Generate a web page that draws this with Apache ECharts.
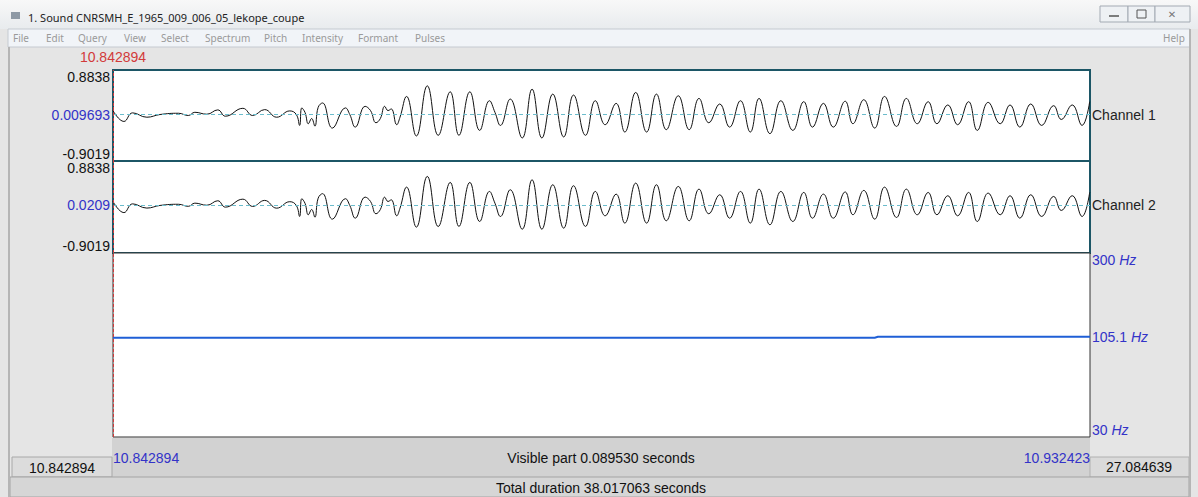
<!DOCTYPE html>
<html>
<head>
<meta charset="utf-8">
<script src="https://cdn.jsdelivr.net/npm/echarts@6/dist/echarts.min.js"></script>
<style>
html, body { margin: 0; padding: 0; background: #e5e5e5; }
#praat { width: 1198px; height: 497px; }
</style>
</head>
<body>
<div id="praat"></div>
<script>
// window / selection values
var windowTitle = '1. Sound CNRSMH_E_1965_009_006_05_lekope_coupe';
var menuItems = ['File', 'Edit', 'Query', 'View', 'Select', 'Spectrum', 'Pitch', 'Intensity', 'Formant', 'Pulses'];
var startSec = '10.842894';
var endSec = '10.932423';
var visibleMs = 89.529;
var visibleText = 'Visible part 0.089530 seconds';
var totalText = 'Total duration 38.017063 seconds';
var leftCellText = '10.842894';
var rightCellText = '27.084639';

// amplitude axes
var ampMin = -0.9019;
var ampMax = 0.8838;
var ch1Mid = 0.009693;
var ch2Mid = 0.0209;

// waveform turning points (time in ms from window start)
var waveT = [0.0, 1.0, 1.8, 3.1, 4.3, 6.0, 6.9, 7.5, 8.6, 9.6, 10.3, 11.9, 12.8, 13.9, 15.0,
  16.2, 16.8, 17.1, 17.3, 17.6, 17.9, 18.2, 18.5, 18.8, 19.2, 20.1, 21.3, 21.7, 22.2, 23.1,
  23.6, 24.1, 24.5, 24.9, 25.2, 25.5, 26.0, 26.3, 26.9, 27.8, 28.8, 29.8, 30.9, 31.7, 32.7,
  33.6, 34.5, 35.0, 35.5, 36.4, 37.5, 38.4, 39.3, 40.3, 41.3, 42.2, 43.3, 44.2, 45.1, 46.1,
  46.9, 47.9, 48.9, 49.8, 50.7, 51.8, 52.8, 53.7, 54.6, 55.6, 56.5, 57.5, 58.4, 59.2, 60.2,
  61.2, 62.3, 63.3, 64.1, 65.1, 66.0, 67.1, 67.8, 68.8, 69.8, 70.7, 71.8, 72.7, 73.7, 74.7,
  75.5, 76.5, 77.4, 78.4, 79.2, 80.2, 81.3, 82.2, 83.1, 84.1, 85.1, 86.2, 86.9, 87.9, 88.8, 89.5];
var ch1Amp = [0.087, -0.126, 0.043, -0.043, 0.010, 0.035, -0.009, 0.054, 0.016, 0.101, -0.023, 0.132, -0.009, 0.107, -0.043,
  0.081, 0.010, -0.204, 0.140, 0.049, -0.171, -0.068, -0.217, 0.151, 0.237, -0.256, 0.140, 0.010, -0.237, 0.171,
  0.087, -0.151, -0.068, 0.171, 0.087, 0.120, -0.190, -0.043, 0.365, -0.411, 0.573, -0.398, 0.456, -0.398, 0.456,
  -0.301, 0.281, 0.054, -0.204, 0.314, -0.450, 0.508, -0.450, 0.411, -0.430, 0.392, -0.398, 0.281, -0.190, 0.229,
  -0.334, 0.443, -0.334, 0.411, -0.287, 0.378, -0.287, 0.326, -0.151, 0.217, -0.237, 0.281, -0.334, 0.326, -0.365,
  0.281, -0.301, 0.262, -0.237, 0.229, -0.237, 0.272, -0.171, 0.301, -0.256, 0.365, -0.223, 0.326, -0.171, 0.262,
  -0.171, 0.198, -0.190, 0.262, -0.301, 0.249, -0.171, 0.198, -0.237, 0.217, -0.204, 0.184, -0.087, 0.198, -0.204, 0.262];
var ch2Amp = [0.098, -0.118, 0.052, -0.030, 0.021, 0.044, 0.004, 0.066, 0.025, 0.112, -0.012, 0.143, 0.002, 0.119, -0.032,
  0.094, 0.021, -0.193, 0.152, 0.060, -0.160, -0.057, -0.206, 0.162, 0.250, -0.245, 0.152, 0.021, -0.226, 0.183,
  0.098, -0.140, -0.057, 0.182, 0.098, 0.131, -0.180, -0.032, 0.377, -0.400, 0.585, -0.388, 0.468, -0.386, 0.468,
  -0.290, 0.293, 0.065, -0.193, 0.326, -0.440, 0.520, -0.440, 0.423, -0.420, 0.404, -0.386, 0.293, -0.180, 0.241,
  -0.322, 0.455, -0.322, 0.423, -0.276, 0.390, -0.276, 0.338, -0.140, 0.229, -0.226, 0.293, -0.322, 0.338, -0.354,
  0.293, -0.290, 0.274, -0.226, 0.241, -0.226, 0.284, -0.160, 0.313, -0.245, 0.377, -0.212, 0.338, -0.160, 0.274,
  -0.160, 0.210, -0.180, 0.274, -0.290, 0.261, -0.160, 0.210, -0.226, 0.229, -0.193, 0.196, -0.076, 0.210, -0.193, 0.274];

// pitch track
var pitchMin = 30;
var pitchMax = 300;
var pitchTicks = [30, 105.1, 300];
var pitchT = [0, 69.8, 70.1, 89.529];
var pitchHz = [103.9, 103.9, 105.1, 105.1];

var FONT = '"Liberation Sans", Arial, sans-serif';
var UI_FONT = '"Noto Sans", "DejaVu Sans", sans-serif';
var BLUE = '#3333c8';
var RED = '#d23a3a';

function pairs(xs, ys) {
  var out = [];
  for (var i = 0; i < xs.length; i++) out.push([xs[i], ys[i]]);
  return out;
}

// chrome of the Praat window
var menuX = [13, 46, 78, 124, 161, 205, 264, 302, 358, 415];
var graphics = [
  { type: 'rect', z: -10, shape: { x: 0, y: 0, width: 1198, height: 497 }, style: { fill: '#e5e5e5' } },
  { type: 'rect', z: -9, shape: { x: 0, y: 0, width: 1198, height: 29 },
    style: { fill: new echarts.graphic.LinearGradient(0, 0, 0, 1, [{ offset: 0, color: '#f8f8f8' }, { offset: 1, color: '#e8ebee' }]) } },
  { type: 'rect', z: -8, shape: { x: 11, y: 12, width: 9, height: 7 }, style: { fill: '#8e99a5' } },
  { type: 'text', z: -8, x: 28, y: 17, style: { text: windowTitle, font: '11px ' + UI_FONT, fill: '#222', verticalAlign: 'middle' } },
  { type: 'rect', z: -8, shape: { x: 1100, y: 6, width: 28, height: 16 }, style: { fill: '#eef1f4', stroke: '#a3aab3' } },
  { type: 'rect', z: -8, shape: { x: 1128, y: 6, width: 27, height: 16 }, style: { fill: '#eef1f4', stroke: '#a3aab3' } },
  { type: 'rect', z: -8, shape: { x: 1155, y: 6, width: 35, height: 16 }, style: { fill: '#eef1f4', stroke: '#a3aab3' } },
  { type: 'line', z: -7, shape: { x1: 1109, y1: 16, x2: 1119, y2: 16 }, style: { stroke: '#555', lineWidth: 1.5 } },
  { type: 'rect', z: -7, shape: { x: 1137, y: 10, width: 9, height: 8 }, style: { fill: 'none', stroke: '#555', lineWidth: 1 } },
  { type: 'text', z: -7, x: 1172, y: 14, style: { text: '✕', font: '10px ' + UI_FONT, fill: '#777', align: 'center', verticalAlign: 'middle' } },
  { type: 'rect', z: -9, shape: { x: 8, y: 29, width: 1182, height: 18 }, style: { fill: '#f1f4f8', stroke: '#c5cad1' } },
  { type: 'text', z: -8, x: 1163, y: 38, style: { text: 'Help', font: '10px ' + UI_FONT, fill: '#999', verticalAlign: 'middle' } },
  { type: 'line', z: -8, shape: { x1: 9, y1: 47, x2: 9, y2: 497 }, style: { stroke: '#b5b5b5', lineWidth: 2 } },
  { type: 'line', z: -8, shape: { x1: 1190, y1: 29, x2: 1190, y2: 497 }, style: { stroke: '#b5b5b5', lineWidth: 2 } },
  { type: 'rect', z: -9, shape: { x: 112, y: 438, width: 978, height: 39 }, style: { fill: '#d2d2d2' } },
  { type: 'rect', z: -9, shape: { x: 12, y: 457, width: 100, height: 20 }, style: { fill: '#dcdcdc', stroke: '#a8a8a8' } },
  { type: 'rect', z: -9, shape: { x: 1090, y: 457, width: 99, height: 20 }, style: { fill: '#dadada', stroke: '#b0b0b0' } },
  { type: 'rect', z: -9, shape: { x: 10, y: 477, width: 1179, height: 20 }, style: { fill: '#d6d6d6', stroke: '#a4a4a4' } },
  { type: 'text', z: -8, x: 601, y: 458, style: { text: visibleText, font: '14px ' + FONT, fill: '#111', align: 'center', verticalAlign: 'middle' } },
  { type: 'text', z: -8, x: 62, y: 468, style: { text: leftCellText, font: '14px ' + FONT, fill: '#111', align: 'center', verticalAlign: 'middle' } },
  { type: 'text', z: -8, x: 1139, y: 467, style: { text: rightCellText, font: '14px ' + FONT, fill: '#111', align: 'center', verticalAlign: 'middle' } },
  { type: 'text', z: -8, x: 601, y: 488, style: { text: totalText, font: '14px ' + FONT, fill: '#111', align: 'center', verticalAlign: 'middle' } }
];
for (var m = 0; m < menuItems.length; m++) {
  graphics.push({ type: 'text', z: -8, x: menuX[m], y: 38,
    style: { text: menuItems[m], font: '10px ' + UI_FONT, fill: '#9a9a9a', verticalAlign: 'middle' } });
}

function ampAxis(grid, mid) {
  return {
    gridIndex: grid, type: 'value', min: ampMin, max: ampMax, position: 'left',
    axisLine: { show: false }, axisTick: { show: false }, splitLine: { show: false },
    axisLabel: {
      customValues: [ampMin, mid, ampMax], margin: 3, fontSize: 14, fontFamily: FONT, color: '#111',
      verticalAlignMinLabel: 'bottom', verticalAlignMaxLabel: 'top',
      formatter: function (v) {
        if (Math.abs(v - mid) < 1e-7) return '{mid|' + String(mid) + '}';
        return v.toFixed(4);
      },
      rich: { mid: { color: BLUE, fontSize: 14, fontFamily: FONT } }
    }
  };
}
function nameAxis(grid, mid, name) {
  return {
    gridIndex: grid, type: 'value', min: ampMin, max: ampMax, position: 'right',
    axisLine: { show: false }, axisTick: { show: false }, splitLine: { show: false },
    axisLabel: { customValues: [mid], margin: 2, fontSize: 14, fontFamily: FONT, color: '#222', formatter: function () { return name; } }
  };
}
function waveMarks(mid) {
  return {
    silent: true, symbol: 'none', label: { show: false },
    data: [
      { yAxis: mid, lineStyle: { color: '#6bbccc', type: [4, 3], width: 1 } },
      { xAxis: 0, lineStyle: { color: RED, type: [3, 2], width: 1 } }
    ]
  };
}

var option = {
  animation: false,
  backgroundColor: '#e5e5e5',
  graphic: graphics,
  grid: [
    { left: 113, width: 977, top: 70, height: 91, show: true, backgroundColor: '#fff', borderColor: '#1c5666', borderWidth: 2 },
    { left: 113, width: 977, top: 161, height: 92, show: true, backgroundColor: '#fff', borderColor: '#1c5666', borderWidth: 2 },
    { left: 113, width: 977, top: 253, height: 184, show: true, backgroundColor: '#fff', borderColor: '#333', borderWidth: 1 }
  ],
  xAxis: [
    { gridIndex: 0, type: 'value', min: 0, max: visibleMs, position: 'top',
      axisLine: { show: false }, splitLine: { show: false },
      axisTick: { show: true, customValues: [0], length: 8, lineStyle: { color: RED, type: [3, 2] } },
      axisLabel: { customValues: [0], margin: 6, fontSize: 14, fontFamily: FONT, color: RED, formatter: function () { return startSec; } } },
    { gridIndex: 1, type: 'value', min: 0, max: visibleMs, show: false },
    { gridIndex: 2, type: 'value', min: 0, max: visibleMs, position: 'bottom',
      axisLine: { show: false }, axisTick: { show: false }, splitLine: { show: false },
      axisLabel: { customValues: [0, visibleMs], margin: 14, fontSize: 14, fontFamily: FONT, color: BLUE,
        alignMinLabel: 'left', alignMaxLabel: 'right',
        formatter: function (v) { return v === 0 ? startSec : endSec; } } }
  ],
  yAxis: [
    ampAxis(0, ch1Mid),
    nameAxis(0, ch1Mid, 'Channel 1'),
    ampAxis(1, ch2Mid),
    nameAxis(1, ch2Mid, 'Channel 2'),
    { gridIndex: 2, type: 'log', logBase: 10, min: pitchMin, max: pitchMax, position: 'right',
      axisLine: { show: false }, axisTick: { show: false }, splitLine: { show: false },
      axisLabel: { customValues: pitchTicks, margin: 2, fontSize: 14, fontFamily: FONT, color: BLUE,
        verticalAlignMinLabel: 'bottom', verticalAlignMaxLabel: 'top',
        formatter: function (v) {
          var best = pitchTicks[0];
          for (var i = 0; i < pitchTicks.length; i++) if (Math.abs(pitchTicks[i] - v) < Math.abs(best - v)) best = pitchTicks[i];
          return best + ' {u|Hz}';
        },
        rich: { u: { color: BLUE, fontStyle: 'italic', fontSize: 14, fontFamily: FONT } } } }
  ],
  series: [
    { name: 'Channel 1', type: 'line', xAxisIndex: 0, yAxisIndex: 0, data: pairs(waveT, ch1Amp),
      smooth: 0.45, showSymbol: false, lineStyle: { color: '#111', width: 1 }, markLine: waveMarks(ch1Mid) },
    { name: 'Channel 2', type: 'line', xAxisIndex: 1, yAxisIndex: 2, data: pairs(waveT, ch2Amp),
      smooth: 0.45, showSymbol: false, lineStyle: { color: '#111', width: 1 }, markLine: waveMarks(ch2Mid) },
    { name: 'Pitch', type: 'line', xAxisIndex: 2, yAxisIndex: 4, data: pairs(pitchT, pitchHz),
      showSymbol: false, lineStyle: { color: '#1f5fd6', width: 2 },
      markLine: { silent: true, symbol: 'none', label: { show: false },
        data: [{ xAxis: 0, lineStyle: { color: RED, type: [3, 2], width: 1 } }] } }
  ]
};

var chart = echarts.init(document.getElementById('praat'), null, { renderer: 'svg' });
chart.setOption(option);
</script>
</body>
</html>
